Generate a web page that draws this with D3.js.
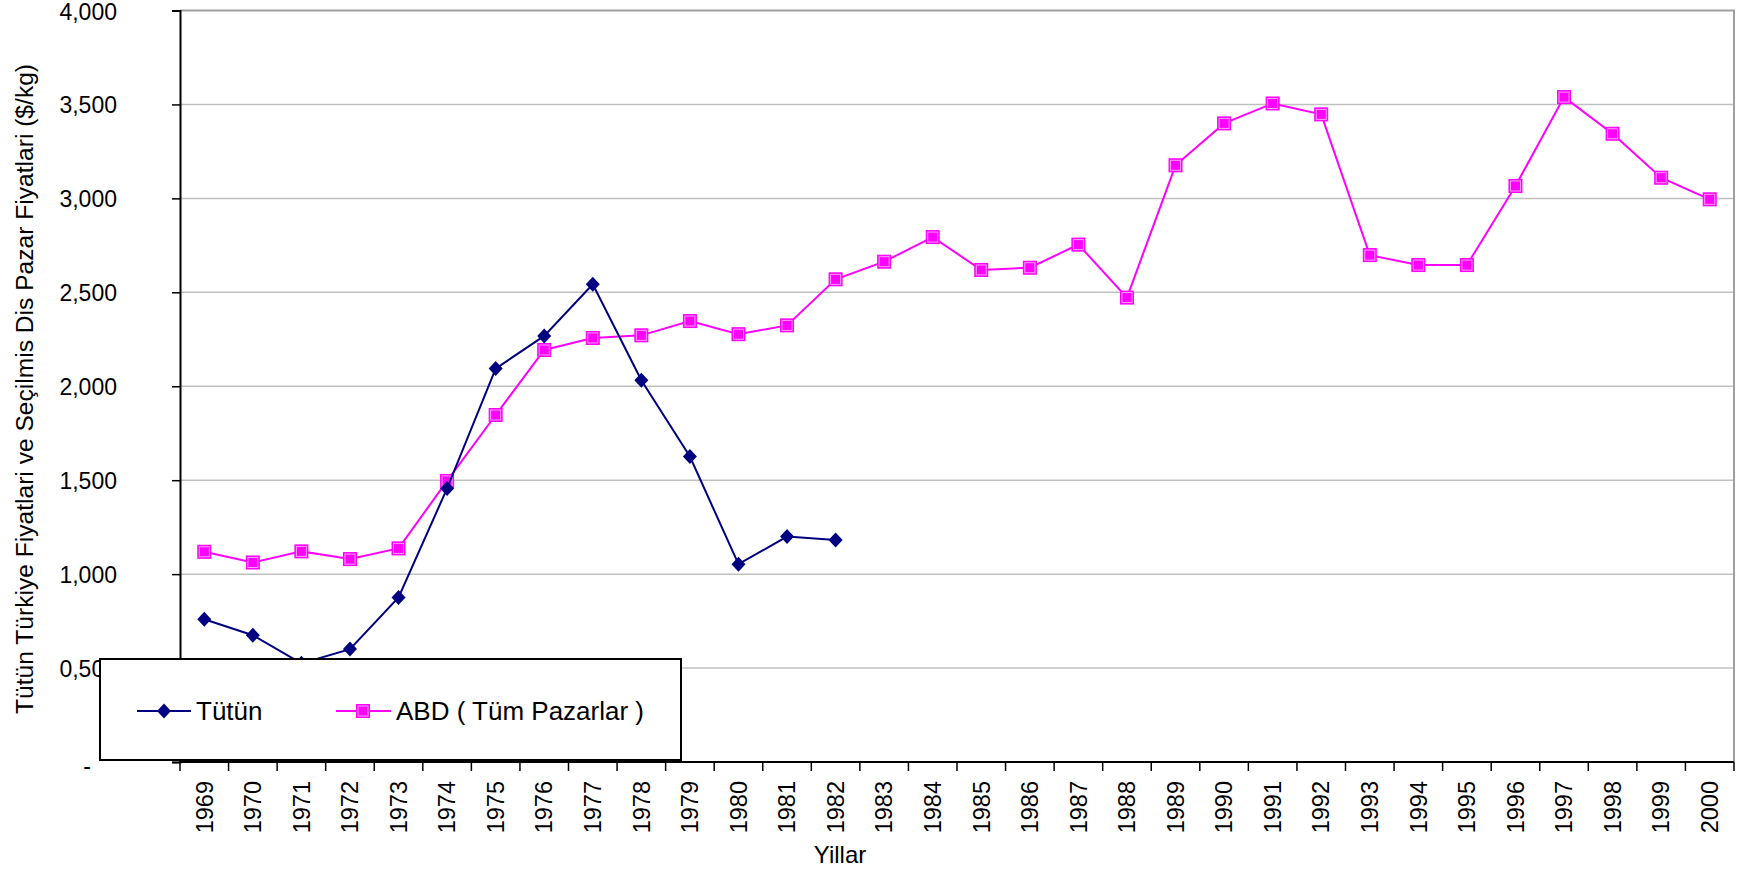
<!DOCTYPE html>
<html>
<head>
<meta charset="utf-8">
<script src="https://cdn.jsdelivr.net/npm/d3@7"></script>
<style>
  body { margin: 0; background: #fff; }
  text { font-family: "Liberation Sans", Arial, sans-serif; fill: #000; }
</style>
</head>
<body>
<div id="chart"></div>
<script>
const years = [];
for (let yr = 1969; yr <= 2000; yr++) years.push(String(yr));

// Tütün (Türkiye), 1969-1982
const tutun = [760, 675, 525, 601, 876, 1456, 2094, 2268, 2543, 2032, 1626, 1053, 1200, 1182];
// ABD (Tüm Pazarlar), 1969-2000
const abd = [1119, 1062, 1121, 1080, 1137, 1496, 1847, 2193, 2257, 2271, 2347, 2277, 2324, 2569,
    2663, 2794, 2619, 2631, 2754, 2472, 3176, 3399, 3505, 3447, 2698, 2645, 2645, 3066,
    3539, 3344, 3110, 2995];

const yTicks = [0, 500, 1000, 1500, 2000, 2500, 3000, 3500, 4000];
const yTickLabels = ['-', '0,500', '1,000', '1,500', '2,000', '2,500', '3,000', '3,500', '4,000'];

const width = 1742;
const height = 875;
const plotLeft = 180, plotRight = 1734, plotTop = 10.5, plotBottom = 762;

const svg = d3.select('#chart')
    .append('svg')
    .attr('width', width)
    .attr('height', height);

const x = d3.scaleBand()
    .domain(years)
    .range([plotLeft, plotRight])
    .padding(0);

const y = d3.scaleLinear()
    .domain([0, 4000])
    .range([plotBottom, plotTop]);

// gridlines
svg.append('g')
    .selectAll('line')
    .data(yTicks.filter(d => d > 0 && d < 4000))
    .enter().append('line')
    .attr('x1', plotLeft)
    .attr('x2', plotRight)
    .attr('y1', d => y(d))
    .attr('y2', d => y(d))
    .attr('stroke', '#c0c0c0')
    .attr('stroke-width', 1.5);

// plot border (top / right)
svg.append('path')
    .attr('d', `M${plotLeft},${y(4000)}H${plotRight}V${plotBottom}`)
    .attr('fill', 'none')
    .attr('stroke', '#a0a0a0')
    .attr('stroke-width', 2);

// y axis
const yAxis = svg.append('g')
    .attr('transform', `translate(${plotLeft},0)`)
    .call(d3.axisLeft(y)
        .tickValues(yTicks)
        .tickSize(8)
        .tickPadding(55)
        .tickFormat((d, i) => yTickLabels[i]));
yAxis.select('.domain').attr('stroke', '#000').attr('stroke-width', 2);
yAxis.selectAll('.tick line').attr('stroke', '#000').attr('stroke-width', 1.5);
yAxis.selectAll('.tick text')
    .attr('font-size', 23)
    .attr('font-family', '"Liberation Sans", Arial, sans-serif')
    .attr('fill', '#000')
    .attr('dx', d => d === 0 ? -26 : 0)
    .attr('dy', d => d === 0 ? '0.5em' : d === 4000 ? '0.4em' : '0.35em');

// x axis line + boundary ticks
svg.append('line')
    .attr('x1', plotLeft - 1)
    .attr('x2', plotRight)
    .attr('y1', plotBottom)
    .attr('y2', plotBottom)
    .attr('stroke', '#000')
    .attr('stroke-width', 2);

svg.append('g')
    .selectAll('line')
    .data(years.map(d => x(d)).concat([x.range()[1]]))
    .enter().append('line')
    .attr('x1', d => d)
    .attr('x2', d => d)
    .attr('y1', plotBottom)
    .attr('y2', plotBottom + 9)
    .attr('stroke', '#000')
    .attr('stroke-width', 1.5);

svg.append('g')
    .selectAll('text')
    .data(years)
    .enter().append('text')
    .attr('transform', d => `translate(${x(d) + x.bandwidth() / 2},781) rotate(-90)`)
    .attr('text-anchor', 'end')
    .attr('dy', '0.35em')
    .attr('font-size', 23.5)
    .text(d => d);

// axis titles
svg.append('text')
    .attr('x', 840)
    .attr('y', 863)
    .attr('text-anchor', 'middle')
    .attr('font-size', 24)
    .text('Yillar');

svg.append('text')
    .attr('transform', 'translate(33,389) rotate(-90)')
    .attr('text-anchor', 'middle')
    .attr('font-size', 24.6)
    .text('Tütün Türkiye Fiyatlari ve Seçilmis Dis Pazar Fiyatlari ($/kg)');

// series
const cx = (d, i) => x(years[i]) + x.bandwidth() / 2;
const line = d3.line()
    .x(cx)
    .y(d => y(d));

const navy = '#000080';
const magenta = '#ff00ff';
const diamond = 'M0,-7.5L7,0L0,7.5L-7,0Z';

const drawSquare = (g) => {
    g.append('rect')
        .attr('x', -6.5).attr('y', -6.5)
        .attr('width', 13).attr('height', 13)
        .attr('fill', magenta)
        .attr('stroke', magenta)
        .attr('stroke-width', 1);
    g.append('rect')
        .attr('x', -5).attr('y', -5)
        .attr('width', 10).attr('height', 10)
        .attr('fill', 'none')
        .attr('stroke', '#ff9cff')
        .attr('stroke-width', 1);
};

svg.append('path')
    .datum(abd)
    .attr('d', line)
    .attr('fill', 'none')
    .attr('stroke', magenta)
    .attr('stroke-width', 2);

svg.append('g')
    .selectAll('g')
    .data(abd)
    .enter().append('g')
    .attr('transform', (d, i) => `translate(${cx(d, i)},${y(d)})`)
    .each(function () { drawSquare(d3.select(this)); });

svg.append('path')
    .datum(tutun)
    .attr('d', line)
    .attr('fill', 'none')
    .attr('stroke', navy)
    .attr('stroke-width', 2);

svg.append('g')
    .selectAll('path')
    .data(tutun)
    .enter().append('path')
    .attr('d', diamond)
    .attr('transform', (d, i) => `translate(${cx(d, i)},${y(d)})`)
    .attr('fill', navy);

// legend
const legend = svg.append('g');
legend.append('rect')
    .attr('x', 100)
    .attr('y', 659)
    .attr('width', 581)
    .attr('height', 101)
    .attr('fill', '#fff')
    .attr('stroke', '#000')
    .attr('stroke-width', 2);

const ly = 711;
legend.append('line')
    .attr('x1', 137).attr('x2', 191)
    .attr('y1', ly).attr('y2', ly)
    .attr('stroke', navy).attr('stroke-width', 2);
legend.append('path')
    .attr('d', diamond)
    .attr('transform', `translate(164,${ly})`)
    .attr('fill', navy);
legend.append('text')
    .attr('x', 196).attr('y', ly)
    .attr('dy', '0.35em')
    .attr('font-size', 26)
    .text('Tütün');

legend.append('line')
    .attr('x1', 336).attr('x2', 391)
    .attr('y1', ly).attr('y2', ly)
    .attr('stroke', magenta).attr('stroke-width', 2);
legend.append('g')
    .attr('transform', `translate(363,${ly})`)
    .call(drawSquare);
legend.append('text')
    .attr('x', 396).attr('y', ly)
    .attr('dy', '0.35em')
    .attr('font-size', 26)
    .text('ABD ( Tüm Pazarlar )');
</script>
</body>
</html>
